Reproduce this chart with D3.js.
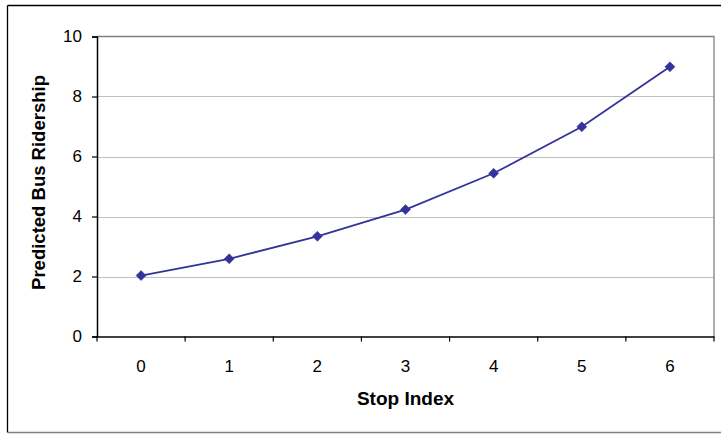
<!DOCTYPE html>
<html>
<head>
<meta charset="utf-8">
<script src="https://cdn.jsdelivr.net/npm/d3@7"></script>
<style>
  html, body { margin: 0; padding: 0; background: #fff; }
  svg { display: block; }
  text { font-family: "Liberation Sans", Arial, sans-serif; fill: #000; }
</style>
</head>
<body>
<svg id="chart" width="721" height="434"></svg>
<script>
const categories = ["0", "1", "2", "3", "4", "5", "6"];
const ridership = [2.03, 2.59, 3.34, 4.23, 5.44, 6.99, 8.99];
const yTicks = [0, 2, 4, 6, 8, 10];
const xTitle = "Stop Index";
const yTitle = "Predicted Bus Ridership";

const svg = d3.select("#chart");
const W = 721, H = 434;
const m = { left: 97, right: 714, top: 36.5, bottom: 336.5 };

// outer chart border
svg.append("line").attr("x1", 7.5).attr("x2", W).attr("y1", 5.5).attr("y2", 5.5).attr("stroke", "#000").attr("stroke-width", 1.3);
svg.append("line").attr("x1", 7.5).attr("x2", 7.5).attr("y1", 5.5).attr("y2", 432.5).attr("stroke", "#000").attr("stroke-width", 1.3);
svg.append("line").attr("x1", 7.5).attr("x2", W).attr("y1", 432.5).attr("y2", 432.5).attr("stroke", "#808080").attr("stroke-width", 1.3);

const x = d3.scaleBand().domain(categories).range([m.left, m.right]).padding(0);
const y = d3.scaleLinear().domain([0, 10]).range([m.bottom, m.top]);

// gridlines
svg.append("g").selectAll("line").data(yTicks.filter(t => t > 0 && t < 10)).join("line")
  .attr("x1", m.left).attr("x2", m.right)
  .attr("y1", d => Math.round(y(d)) + 0.5).attr("y2", d => Math.round(y(d)) + 0.5)
  .attr("stroke", "#c0c0c0").attr("stroke-width", 1);

// plot area border top/right
svg.append("path")
  .attr("d", `M${m.left},${m.top}H${m.right}V${m.bottom}`)
  .attr("fill", "none").attr("stroke", "#808080").attr("stroke-width", 1.3);

// y axis
const yAxis = svg.append("g").attr("transform", `translate(${m.left},0)`)
  .call(d3.axisLeft(y).tickValues(yTicks).tickSize(5).tickPadding(10).tickFormat(d3.format("d")));
yAxis.select(".domain").attr("stroke", "#000").attr("stroke-width", 1.5);
yAxis.selectAll(".tick line").attr("stroke", "#000").attr("stroke-width", 1.2);
yAxis.selectAll(".tick text").attr("font-size", "17px").attr("font-family", "Liberation Sans, Arial, sans-serif").attr("fill", "#000");

// x axis with ticks at category boundaries
const xAxis = svg.append("g").attr("transform", `translate(0,${m.bottom})`)
  .call(d3.axisBottom(x).tickSize(0).tickPadding(23));
xAxis.select(".domain").attr("stroke", "#000").attr("stroke-width", 1.5);
xAxis.selectAll(".tick text").attr("font-size", "17px").attr("font-family", "Liberation Sans, Arial, sans-serif").attr("fill", "#000");
const bounds = categories.map(c => x(c)).concat([x(categories[categories.length - 1]) + x.bandwidth()]);
xAxis.selectAll("line.bound").data(bounds).join("line").attr("class", "bound")
  .attr("x1", d => d).attr("x2", d => d).attr("y1", 0).attr("y2", 5)
  .attr("stroke", "#000").attr("stroke-width", 1.2);

// series line
const cx = d => x(categories[d]) + x.bandwidth() / 2;
const line = d3.line().x((d, i) => x(categories[i]) + x.bandwidth() / 2).y(d => y(d));
svg.append("path").datum(ridership).attr("d", line)
  .attr("fill", "none").attr("stroke", "#333399").attr("stroke-width", 1.8);

svg.append("g").selectAll("path").data(ridership).join("path")
  .attr("d", d3.symbol().type(d3.symbolSquare).size(50))
  .attr("transform", (d, i) => `translate(${cx(i)},${y(d)}) rotate(45)`)
  .attr("fill", "#333399").attr("stroke", "#333399").attr("stroke-width", 0.5);

// axis titles
svg.append("text").attr("x", (m.left + m.right) / 2).attr("y", 405)
  .attr("text-anchor", "middle").attr("font-size", "19px").attr("font-weight", "bold").text(xTitle);
svg.append("text").attr("transform", `translate(45,${(m.top + m.bottom) / 2 - 4}) rotate(-90)`)
  .attr("text-anchor", "middle").attr("font-size", "18.5px").attr("font-weight", "bold").text(yTitle);
</script>
</body>
</html>
